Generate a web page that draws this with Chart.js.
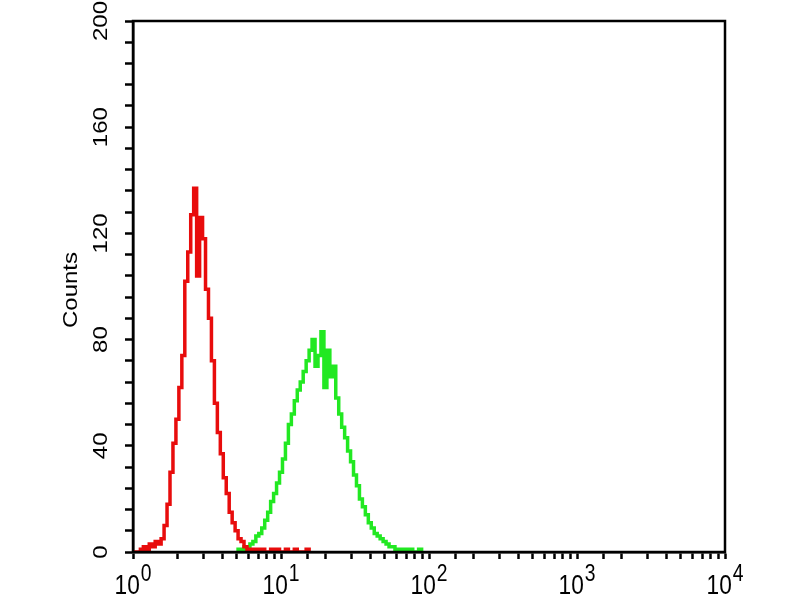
<!DOCTYPE html>
<html>
<head>
<meta charset="utf-8">
<script src="https://cdn.jsdelivr.net/npm/chart.js@4/dist/chart.umd.min.js"></script>
<style>
  html, body { margin: 0; padding: 0; background: #fff; }
  #wrap { width: 800px; height: 600px; }
</style>
</head>
<body>
<div id="wrap"><canvas id="grafico" width="800" height="600"></canvas></div>
<script>
// =====================================
// DATOS (canal en decadas log10, cuentas)
// =====================================

const rojoDecada = [0.00, 0.02, 0.04, 0.06, 0.08, 0.10, 0.12, 0.14, 0.16, 0.18,
    0.20, 0.22, 0.24, 0.26, 0.28, 0.30, 0.32, 0.34, 0.36, 0.38,
    0.40, 0.42, 0.44, 0.46, 0.48, 0.50, 0.52, 0.54, 0.56, 0.58,
    0.60, 0.62, 0.64, 0.66, 0.68, 0.70, 0.72, 0.74, 0.76, 0.78,
    0.80, 0.82, 0.84, 0.86, 0.88, 0.90, 0.92, 0.94, 0.96, 0.98,
    1.00, 1.02, 1.04, 1.06, 1.08, 1.10, 1.12, 1.14, 1.16, 1.18, 1.20];
const rojoCuentas = [0, 0, 0, 1, 2, 1, 3, 2, 4, 3,
    5, 10, 18, 30, 41, 50, 62, 74, 102, 113,
    127, 137, 104, 126, 118, 99, 88, 72, 56, 45,
    37, 28, 22, 15, 11, 8, 5, 4, 2, 1,
    1, 0, 1, 0, 1, 0, 0, 1, 0, 1,
    0, 0, 1, 0, 0, 1, 0, 0, 0, 1, 0];

const verdeDecada = [0.70, 0.72, 0.74, 0.76, 0.78, 0.80, 0.82, 0.84, 0.86, 0.88,
    0.90, 0.92, 0.94, 0.96, 0.98, 1.00, 1.02, 1.04, 1.06, 1.08,
    1.10, 1.12, 1.14, 1.16, 1.18, 1.20, 1.22, 1.24, 1.26, 1.28,
    1.30, 1.32, 1.34, 1.36, 1.38, 1.40, 1.42, 1.44, 1.46, 1.48,
    1.50, 1.52, 1.54, 1.56, 1.58, 1.60, 1.62, 1.64, 1.66, 1.68,
    1.70, 1.72, 1.74, 1.76, 1.78, 1.80, 1.82, 1.84, 1.86, 1.88,
    1.90, 1.92, 1.94, 1.96];
const verdeCuentas = [0, 1, 0, 2, 1, 3, 4, 6, 7, 9,
    12, 15, 19, 22, 26, 30, 35, 41, 48, 52,
    57, 61, 64, 68, 72, 76, 80, 70, 74, 83,
    62, 76, 66, 70, 58, 52, 47, 43, 38, 34,
    29, 25, 20, 17, 14, 11, 9, 7, 6, 5,
    4, 3, 2, 2, 1, 1, 0, 1, 0, 1,
    0, 0, 1, 0];

const etiquetasY = [0, 40, 80, 120, 160, 200];
const decadasX = [0, 1, 2, 3, 4];
const tituloY = "Counts";

// =====================================
// PLUGIN: marco y etiquetas
// =====================================

const COMPRESION = 0.84;
const FUENTE = "'Liberation Sans', Arial, sans-serif";

const marcoYTextos = {
    id: "marcoYTextos",
    afterDraw(chart) {
        const ctx = chart.ctx;
        const area = chart.chartArea;
        const x = chart.scales.x;
        const y = chart.scales.y;

        ctx.save();
        ctx.strokeStyle = "#000";
        ctx.lineWidth = 2.5;
        ctx.strokeRect(area.left, area.top, area.right - area.left, area.bottom - area.top);

        ctx.fillStyle = "#000";

        // etiquetas eje Y (rotadas)
        ctx.font = "24px " + FUENTE;
        ctx.textAlign = "center";
        ctx.textBaseline = "middle";
        etiquetasY.forEach(v => {
            ctx.save();
            ctx.translate(101, y.getPixelForValue(v));
            ctx.scale(COMPRESION, 1);
            ctx.rotate(-Math.PI / 2);
            ctx.fillText(String(v), 0, 0);
            ctx.restore();
        });

        // titulo eje Y
        ctx.save();
        ctx.font = "24px " + FUENTE;
        ctx.translate(71, 290);
        ctx.scale(COMPRESION, 1);
        ctx.rotate(-Math.PI / 2);
        ctx.fillText(tituloY, 0, 0);
        ctx.restore();

        // etiquetas eje X: 10 con exponente
        ctx.textAlign = "left";
        ctx.textBaseline = "alphabetic";
        decadasX.forEach(n => {
            const px = x.getPixelForValue(Math.pow(10, n));
            ctx.font = "27px " + FUENTE;
            const wBase = ctx.measureText("10").width;
            ctx.font = "23px " + FUENTE;
            const wExp = ctx.measureText(String(n)).width;
            const total = (wBase + wExp + 1) * COMPRESION;
            const inicio = px - total / 2;

            ctx.save();
            ctx.translate(inicio, 0);
            ctx.scale(COMPRESION, 1);
            ctx.font = "27px " + FUENTE;
            ctx.fillText("10", 0, 594);
            ctx.font = "23px " + FUENTE;
            ctx.fillText(String(n), wBase + 1, 581);
            ctx.restore();
        });
        ctx.restore();
    }
};

// =====================================
// GRAFICO
// =====================================

const puntos = (dec, cuentas) => dec.map((d, i) => ({ x: Math.pow(10, d), y: cuentas[i] }));

new Chart(document.getElementById("grafico"), {
    type: "line",
    data: {
        datasets: [{
            label: "Control",
            data: puntos(rojoDecada, rojoCuentas),
            borderColor: "#e80c0c",
            borderWidth: 3.5,
            pointRadius: 0,
            stepped: "middle",
            fill: false
        }, {
            label: "Muestra",
            data: puntos(verdeDecada, verdeCuentas),
            borderColor: "#22e822",
            borderWidth: 3.5,
            pointRadius: 0,
            stepped: "middle",
            fill: false
        }]
    },
    options: {
        responsive: false,
        animation: false,
        events: [],
        layout: { padding: { left: 0, right: 75, top: 21, bottom: 0 } },
        plugins: {
            legend: { display: false },
            tooltip: { enabled: false }
        },
        scales: {
            x: {
                type: "logarithmic",
                min: 1,
                max: 10000,
                afterFit: s => { s.height = 48; },
                border: { display: true, color: "#000", width: 2.5 },
                grid: {
                    drawOnChartArea: false,
                    drawTicks: true,
                    tickLength: 7,
                    tickWidth: 2.5,
                    tickColor: "#000"
                },
                ticks: { display: false }
            },
            y: {
                min: 0,
                max: 200,
                afterFit: s => { s.width = 133; },
                border: { display: true, color: "#000", width: 2.5 },
                grid: {
                    drawOnChartArea: false,
                    drawTicks: true,
                    tickLength: 8,
                    tickWidth: 2.5,
                    tickColor: "#000"
                },
                ticks: { display: false, stepSize: 8 }
            }
        }
    },
    plugins: [marcoYTextos]
});
</script>
</body>
</html>
